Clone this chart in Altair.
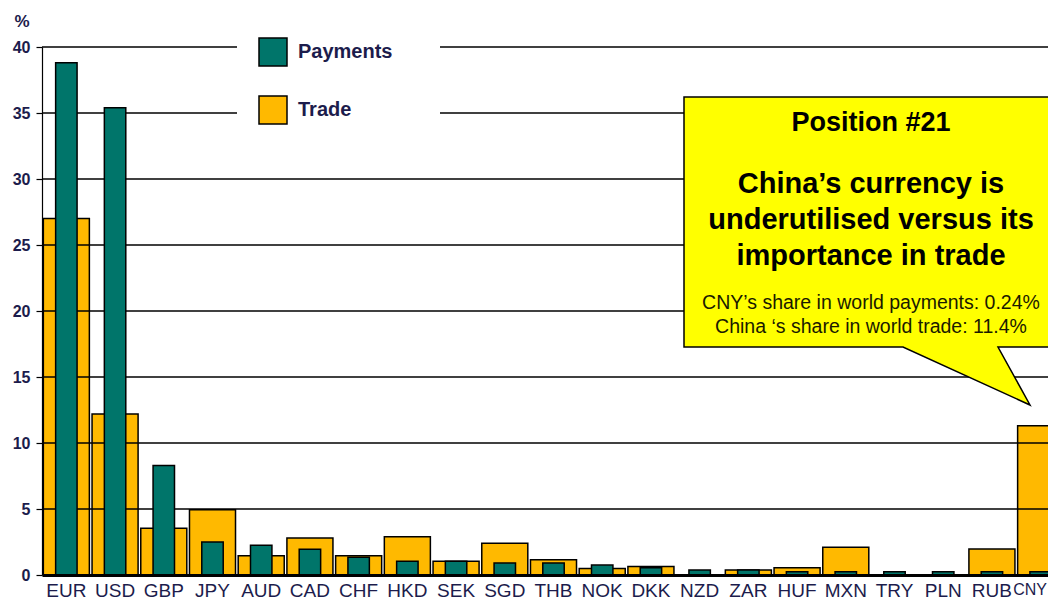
import altair as alt
import pandas as pd

# ---- data ----
currencies = ["EUR", "USD", "GBP", "JPY", "AUD", "CAD", "CHF", "HKD", "SEK", "SGD",
              "THB", "NOK", "DKK", "NZD", "ZAR", "HUF", "MXN", "TRY", "PLN", "RUB", "CNY"]
payments = [38.8, 35.4, 8.3, 2.5, 2.25, 1.95, 1.35, 1.05, 1.05, 0.9,
            0.9, 0.75, 0.55, 0.38, 0.38, 0.25, 0.25, 0.25, 0.25, 0.25, 0.24]
trade = [27.0, 12.2, 3.55, 4.95, 1.45, 2.8, 1.45, 2.9, 1.05, 2.4,
         1.15, 0.5, 0.65, 0.0, 0.38, 0.55, 2.1, 0.0, 0.0, 1.97, 11.3]
y_ticks = [0, 5, 10, 15, 20, 25, 30, 35, 40]
series_names = ["Payments", "Trade"]

callout_title = "Position #21"
callout_lines = ["China\u2019s currency is", "underutilised versus its", "importance in trade"]
callout_notes = ["CNY\u2019s share in world payments: 0.24%", "China \u2018s share in world trade: 11.4%"]

TEAL = "#00756A"
ORANGE = "#FFB900"
YELLOW = "#FFFF00"
NAVY = "#1c1c4c"
FONT = "Liberation Sans"

df = pd.DataFrame({"currency": currencies, "payments": payments, "trade": trade})
grid_df = pd.DataFrame({"v": y_ticks[1:]})

color_scale = alt.Scale(domain=series_names, range=[TEAL, ORANGE])

x_enc = alt.X(
    "currency:N",
    sort=currencies,
    scale=alt.Scale(domain=currencies, range=[0, 1023], paddingInner=0, paddingOuter=0),
    axis=alt.Axis(title=None, labelAngle=0, labelFont=FONT,
                  labelFontSize={"condition": {"test": "datum.value === 'CNY'", "value": 16},
                                 "value": 19},
                  labelColor=NAVY, labelPadding=6, ticks=False, domainColor="black",
                  domainWidth=3, zindex=1, labelOverlap=False,
                  labelOffset={"condition": {"test": "datum.value === 'CNY'", "value": -10.6},
                               "value": 0}),
)
y_scale = alt.Scale(domain=[0, 40], nice=False, zero=True)
y_axis = alt.Axis(values=y_ticks, grid=False, title="%", titleAngle=0,
                  titleX=-28, titleY=-21, titleAlign="left",
                  titleBaseline="alphabetic", titleFontSize=17,
                  titleFontWeight="bold", titleFont=FONT, titleColor=NAVY,
                  labelFontSize=16, labelFontWeight="bold", labelFont=FONT,
                  labelColor=NAVY, tickSize=6, tickColor="black", tickWidth=1.2,
                  domainColor="black", domainWidth=1.2, labelPadding=6)

legend = alt.Legend(
    title=None, orient="none", legendX=216, legendY=-10, direction="vertical",
    symbolType="square", symbolSize=784, symbolStrokeColor="black",
    symbolStrokeWidth=1.5, symbolOpacity=1, labelFontSize=20, labelFontWeight="bold",
    labelFont=FONT, labelColor=NAVY, labelOffset=10, rowPadding=24, padding=0,
)

base = alt.Chart(df)

trade_bars = base.mark_bar(
    width=alt.RelativeBandSize(0.945), stroke="black", strokeWidth=1.5
).transform_calculate(series="'Trade'").encode(
    x=x_enc,
    y=alt.Y("trade:Q", scale=y_scale, axis=y_axis),
    color=alt.Color("series:N", scale=color_scale, legend=legend),
)

grid = alt.Chart(grid_df).mark_rule(color="black", strokeWidth=1.4).encode(
    y=alt.Y("v:Q", scale=y_scale, axis=y_axis),
    x=alt.value(0),
    x2=alt.value(1040),
)

pay_bars = base.mark_bar(
    width=alt.RelativeBandSize(0.44), stroke="black", strokeWidth=1.5
).transform_calculate(series="'Payments'").encode(
    x=x_enc,
    y=alt.Y("payments:Q", scale=y_scale, axis=y_axis),
    color=alt.Color("series:N", scale=color_scale, legend=legend),
)

one = alt.Data(values=[{"k": 1}])

legend_bg = alt.Chart(one).mark_rect(fill="white").encode(
    x=alt.value(195), x2=alt.value(398), y=alt.value(-17), y2=alt.value(90)
)

callout_path = "M 642 50 L 1040 50 L 1040 300 L 956 300 L 988 358 L 861 300 L 642 300 Z"
callout = alt.Chart(one).mark_point(
    shape=callout_path, size=4, filled=True, fill=YELLOW, fillOpacity=1,
    stroke="black", strokeWidth=1.5, opacity=1
).encode(x=alt.value(0), y=alt.value(0))

CX = 829
texts = [
    alt.Chart(one).mark_text(font=FONT, fontWeight="bold", fontSize=27, align="center",
                             baseline="alphabetic", color="black")
    .encode(x=alt.value(CX), y=alt.value(84), text=alt.value(callout_title))
]
for line, yy in zip(callout_lines, [146, 182, 218]):
    texts.append(
        alt.Chart(one).mark_text(font=FONT, fontWeight="bold", fontSize=29, align="center",
                                 baseline="alphabetic", color="black")
        .encode(x=alt.value(CX), y=alt.value(yy), text=alt.value(line))
    )
for line, yy in zip(callout_notes, [262, 286]):
    texts.append(
        alt.Chart(one).mark_text(font=FONT, fontSize=19.5, align="center",
                                 baseline="alphabetic", color="#1a1a00")
        .encode(x=alt.value(CX), y=alt.value(yy), text=alt.value(line))
    )

chart = alt.layer(trade_bars, grid, pay_bars, legend_bg, callout, *texts).properties(
    width=1006,
    height=528,
    padding={"left": 34, "top": 39, "right": 0, "bottom": 31},
    autosize=alt.AutoSizeParams(type="none"),
).configure_view(stroke=None)

chart.save("out.html", embed_options={"renderer": "svg", "actions": False})
